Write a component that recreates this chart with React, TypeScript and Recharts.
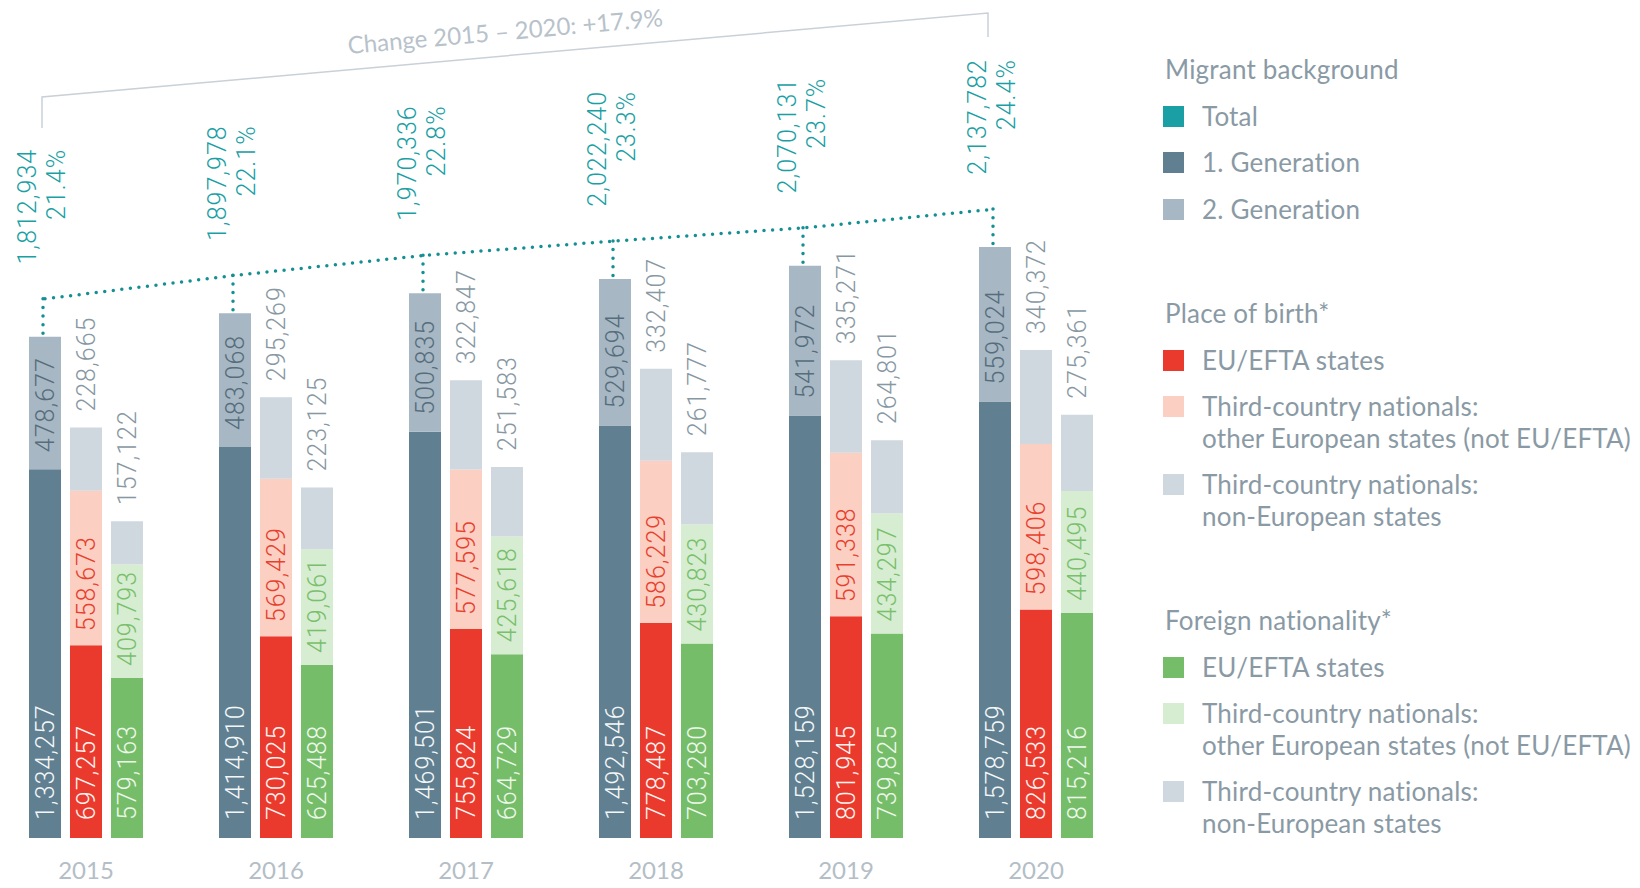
import React from 'react';
import { ComposedChart, Bar, Line, XAxis, YAxis, LabelList, Customized } from 'recharts';

const years = ['2015', '2016', '2017', '2018', '2019', '2020'];

// migrant background
const firstGen = [1334257, 1414910, 1469501, 1492546, 1528159, 1578759];
const secondGen = [478677, 483068, 500835, 529694, 541972, 559024];
const totals = [1812934, 1897978, 1970336, 2022240, 2070131, 2137782];
const shares = ['21.4%', '22.1%', '22.8%', '23.3%', '23.7%', '24.4%'];

// place of birth
const birthEu = [697257, 730025, 755824, 778487, 801945, 826533];
const birthEurope = [558673, 569429, 577595, 586229, 591338, 598406];
const birthNonEurope = [228665, 295269, 322847, 332407, 335271, 340372];

// foreign nationality
const natEu = [579163, 625488, 664729, 703280, 739825, 815216];
const natEurope = [409793, 419061, 425618, 430823, 434297, 440495];
const natNonEurope = [157122, 223125, 251583, 261777, 264801, 275361];

const changeLabel = 'Change 2015 – 2020: +17.9%';

const data = years.map((year, i) => ({
  year,
  firstGen: firstGen[i],
  secondGen: secondGen[i],
  total: totals[i],
  birthEu: birthEu[i],
  birthEurope: birthEurope[i],
  birthNonEurope: birthNonEurope[i],
  natEu: natEu[i],
  natEurope: natEurope[i],
  natNonEurope: natNonEurope[i],
}));

const TEAL = '#1a9fa5';
const DOT_TEAL = '#148f93';
const GRAY_TEXT = '#8898a3';
const SHIFT = 9; // chart svg sits 9px left of the page edge
const LIFT = 38; // dotted total line sits above the bar tops

const fmt = (v: number) => v.toLocaleString('en-US');

const numStyle = { fontFamily: 'Roboto', fontWeight: 300, fontSize: 25, letterSpacing: 1 };

const segLabel = (color: string, pad: number, above = false) => (props: any) => {
  const { x, y, width, height, value } = props;
  if (value == null) return null;
  const cx = x + width / 2;
  const yy = above ? y - pad : y + height - pad;
  return (
    <text x={cx} y={yy} dy="0.35em" transform={`rotate(-90 ${cx} ${yy})`} textAnchor="start" fill={color} style={numStyle}>
      {fmt(value)}
    </text>
  );
};

const TotalMarker = (props: any) => {
  const { x, y, width, index } = props;
  const cx = x + width / 2 - 2;
  const top = y - LIFT;
  const end = top - 150;
  const nx = cx - 16;
  const px = cx + 13;
  return (
    <g>
      <line x1={cx} y1={top} x2={cx} y2={y - 2} stroke={DOT_TEAL} strokeWidth={3.5} strokeDasharray="0 8.6" strokeLinecap="round" />
      <text x={nx} y={end} dy="0.35em" transform={`rotate(-90 ${nx} ${end})`} textAnchor="end" fill={TEAL} style={numStyle}>
        {fmt(totals[index])}
      </text>
      <text x={px} y={end} dy="0.35em" transform={`rotate(-90 ${px} ${end})`} textAnchor="end" fill={TEAL} style={numStyle}>
        {shares[index]}
      </text>
    </g>
  );
};

const Bracket = () => {
  const x1 = 42 + SHIFT;
  const x2 = 988 + SHIFT;
  const y1 = 97;
  const y2 = 13;
  const angle = (Math.atan2(y2 - y1, x2 - x1) * 180) / Math.PI;
  const tx = 506 + SHIFT;
  const ty = 40;
  return (
    <g>
      <polyline points={`${x1},128 ${x1},${y1} ${x2},${y2} ${x2},37`} fill="none" stroke="#c9d1d7" strokeWidth={1.5} />
      <text x={tx} y={ty} textAnchor="middle" transform={`rotate(${angle} ${tx} ${ty})`} fill="#b7c2ca" style={{ fontFamily: 'Lato', fontSize: 24 }}>
        {changeLabel}
      </text>
    </g>
  );
};

const legendSections = [
  {
    title: 'Migrant background',
    items: [
      { color: TEAL, lines: ['Total'] },
      { color: '#607f90', lines: ['1. Generation'] },
      { color: '#a7b8c4', lines: ['2. Generation'] },
    ],
  },
  {
    title: 'Place of birth*',
    items: [
      { color: '#ea3a2d', lines: ['EU/EFTA states'] },
      { color: '#fbd0c3', lines: ['Third-country nationals:', 'other European states (not EU/EFTA)'] },
      { color: '#cfd8df', lines: ['Third-country nationals:', 'non-European states'] },
    ],
  },
  {
    title: 'Foreign nationality*',
    items: [
      { color: '#76bd6a', lines: ['EU/EFTA states'] },
      { color: '#d6edd1', lines: ['Third-country nationals:', 'other European states (not EU/EFTA)'] },
      { color: '#cfd8df', lines: ['Third-country nationals:', 'non-European states'] },
    ],
  },
];

const ChartLegend = () => (
  <div style={{ position: 'absolute', left: 1163, top: 54, fontFamily: 'Lato', fontSize: 26, letterSpacing: 0.2, lineHeight: '31.5px', color: '#8a9aa5' }}>
    {legendSections.map((s, si) => (
      <div key={s.title} style={{ marginTop: si === 0 ? 0 : 73 }}>
        <div style={{ paddingLeft: 2 }}>{s.title}</div>
        {s.items.map((it, ii) => (
          <div key={ii} style={{ display: 'flex', marginTop: 15 }}>
            <div style={{ width: 21, height: 21, background: it.color, marginTop: 5, marginRight: 18, flexShrink: 0 }} />
            <div>
              {it.lines.map((l) => (
                <div key={l} style={{ whiteSpace: 'nowrap' }}>{l}</div>
              ))}
            </div>
          </div>
        ))}
      </div>
    ))}
  </div>
);

export default function App() {
  return (
    <div style={{ position: 'fixed', left: 0, top: 0, width: 1640, height: 888, background: '#fff', overflow: 'hidden' }}>
      <style>{`.total-line { transform: translate(-41px, -${LIFT}px); }`}</style>
      <div style={{ position: 'absolute', left: -SHIFT, top: 0 }}>
        <ComposedChart width={1140} height={888} data={data} margin={{ top: 64, right: 0, bottom: 0, left: 0 }} barSize={32} barGap={9}>
          <XAxis dataKey="year" axisLine={false} tickLine={false} tickSize={0} tickMargin={24} height={50} interval={0}
            tick={{ fill: '#b3bec6', fontSize: 24, fontFamily: 'Lato' }} />
          <YAxis hide domain={[0, 2800000]} />

          <Bar dataKey="firstGen" stackId="mig" fill="#607f90" isAnimationActive={false}>
            <LabelList dataKey="firstGen" content={segLabel('#f4f7f9', 18)} />
          </Bar>
          <Bar dataKey="secondGen" stackId="mig" fill="#a7b8c4" isAnimationActive={false}>
            <LabelList dataKey="secondGen" content={segLabel('#566d7c', 17)} />
            <LabelList dataKey="secondGen" content={TotalMarker} />
          </Bar>

          <Bar dataKey="birthEu" stackId="birth" fill="#ea3a2d" isAnimationActive={false}>
            <LabelList dataKey="birthEu" content={segLabel('#fff3f0', 18)} />
          </Bar>
          <Bar dataKey="birthEurope" stackId="birth" fill="#fbd0c3" isAnimationActive={false}>
            <LabelList dataKey="birthEurope" content={segLabel('#e8402f', 14)} />
          </Bar>
          <Bar dataKey="birthNonEurope" stackId="birth" fill="#cfd8df" isAnimationActive={false}>
            <LabelList dataKey="birthNonEurope" content={segLabel(GRAY_TEXT, 16, true)} />
          </Bar>

          <Bar dataKey="natEu" stackId="nat" fill="#76bd6a" isAnimationActive={false}>
            <LabelList dataKey="natEu" content={segLabel('#eef8ea', 18)} />
          </Bar>
          <Bar dataKey="natEurope" stackId="nat" fill="#d6edd1" isAnimationActive={false}>
            <LabelList dataKey="natEurope" content={segLabel('#79bf6c', 12)} />
          </Bar>
          <Bar dataKey="natNonEurope" stackId="nat" fill="#cfd8df" isAnimationActive={false}>
            <LabelList dataKey="natNonEurope" content={segLabel(GRAY_TEXT, 16, true)} />
          </Bar>

          <Line dataKey="total" className="total-line" type="linear" stroke={DOT_TEAL} strokeWidth={3.5}
            strokeDasharray="0 8.6" strokeLinecap="round" dot={false} activeDot={false} isAnimationActive={false} />
          <Customized component={Bracket} />
        </ComposedChart>
      </div>
      <ChartLegend />
    </div>
  );
}
